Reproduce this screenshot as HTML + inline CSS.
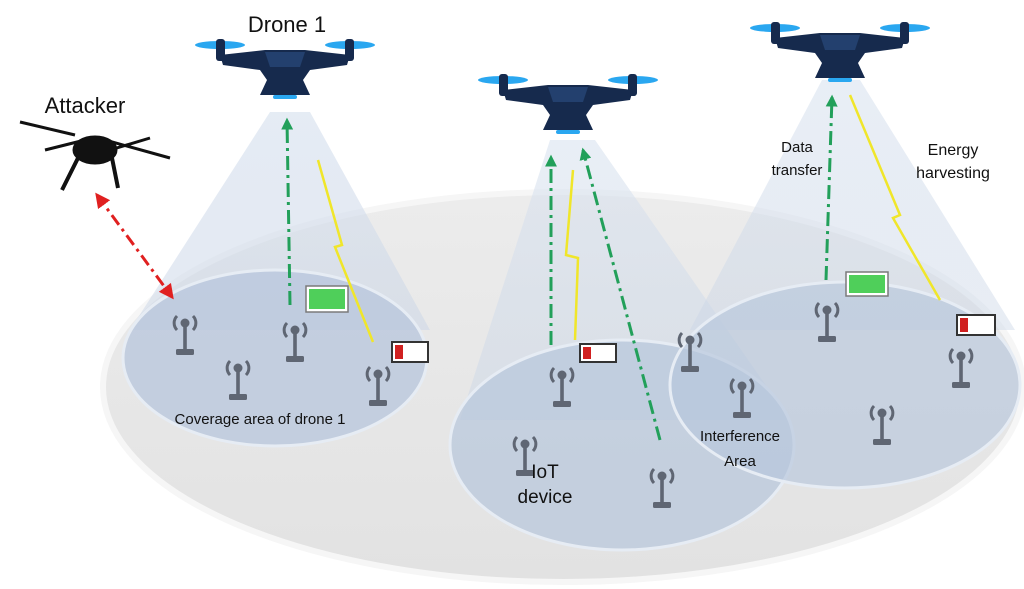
<!DOCTYPE html>
<html><head><style>body{margin:0;background:#fff}svg{display:block;font-family:"Liberation Sans",sans-serif}</style></head><body>
<svg width="1024" height="589" viewBox="0 0 1024 589">
<defs>
<linearGradient id="bg" x1="0" y1="0" x2="0" y2="1"><stop offset="0" stop-color="#ececec"/><stop offset="1" stop-color="#e2e2e2"/></linearGradient>
<linearGradient id="beam" x1="0" y1="0" x2="0" y2="1"><stop offset="0" stop-color="#dbe4f0" stop-opacity=".9"/><stop offset="1" stop-color="#c8d4e6" stop-opacity=".6"/></linearGradient>
<g id="tw" fill="#5f6673" stroke="#5f6673">
<circle cx="0" cy="-12" r="4.5" stroke="none"/>
<path d="M-8,-19 A10,10 0 0 0 -8,-5 M8,-19 A10,10 0 0 1 8,-5" fill="none" stroke-width="3"/>
<rect x="-1.8" y="-10" width="3.6" height="26" stroke="none"/>
<rect x="-9" y="14" width="18" height="6" rx="1.5" stroke="none"/>
</g>
<g id="dr">
<ellipse cx="-65" cy="0" rx="25" ry="4" fill="#2aa7f0"/>
<ellipse cx="65" cy="0" rx="25" ry="4" fill="#2aa7f0"/>
<rect x="-69" y="-6" width="9" height="22" rx="3" fill="#162a4d"/>
<rect x="60" y="-6" width="9" height="22" rx="3" fill="#162a4d"/>
<path d="M-65,10 L-20,5 L20,5 L65,10 L62,20 L25,25 L18,35 L25,50 L-25,50 L-18,35 L-25,25 L-62,20 Z" fill="#162a4d"/>
<path d="M-20,7 L20,7 L15,22 L-15,22Z" fill="#23406e"/>
<rect x="-12" y="50" width="24" height="4" rx="2" fill="#2aa7f0"/>
</g>
<marker id="ar" viewBox="0 0 10 10" refX="8" refY="5" markerWidth="5" markerHeight="5" orient="auto-start-reverse"><path d="M0,0L10,5L0,10Z" fill="#e02020"/></marker>
<marker id="ag" viewBox="0 0 10 10" refX="8" refY="5" markerWidth="4" markerHeight="4" orient="auto"><path d="M0,0L10,5L0,10Z" fill="#22a05a"/></marker>
</defs>
<ellipse cx="563" cy="387" rx="460" ry="195" fill="url(#bg)" stroke="#f6f6f6" stroke-width="6"/>
<!-- beams -->
<polygon points="270,112 310,112 430,330 130,330" fill="url(#beam)" opacity=".8"/>
<polygon points="550,140 595,140 790,420 460,420" fill="url(#beam)" opacity=".7"/>
<polygon points="822,80 860,80 1015,330 690,330" fill="url(#beam)" opacity=".7"/>
<!-- coverage ellipses -->
<ellipse cx="275" cy="358" rx="152" ry="88" fill="#b7c6dc" fill-opacity=".75" stroke="#e6ecf4" stroke-width="3"/>
<ellipse cx="622" cy="445" rx="172" ry="105" fill="#b7c6dc" fill-opacity=".7" stroke="#e6ecf4" stroke-width="3"/>
<ellipse cx="845" cy="385" rx="175" ry="103" fill="#b7c6dc" fill-opacity=".65" stroke="#e6ecf4" stroke-width="3"/>
<!-- towers -->
<use href="#tw" x="185" y="335"/><use href="#tw" x="238" y="380"/><use href="#tw" x="295" y="342"/><use href="#tw" x="378" y="386"/>
<use href="#tw" x="562" y="387"/><use href="#tw" x="525" y="456"/><use href="#tw" x="662" y="488"/><use href="#tw" x="690" y="352"/><use href="#tw" x="742" y="398"/>
<use href="#tw" x="827" y="322"/><use href="#tw" x="961" y="368"/><use href="#tw" x="882" y="425"/>
<!-- lightning -->
<g fill="none" stroke="#f0e62a" stroke-width="2.5">
<path d="M318,160 L342,245 L335,247 L373,342"/>
<path d="M573,170 L566,255 L578,258 L575,340"/>
<path d="M850,95 L900,215 L893,218 L940,300"/>
</g>
<!-- green arrows -->
<g stroke="#22a05a" stroke-width="3" stroke-dasharray="14,5,3,5" fill="none">
<path d="M290,305 L287,120" marker-end="url(#ag)"/>
<path d="M551,345 L551,157" marker-end="url(#ag)"/>
<path d="M660,440 L583,150" marker-end="url(#ag)"/>
<path d="M826,280 L832,97" marker-end="url(#ag)"/>
</g>
<path d="M97,195 L172,297" stroke="#e02020" stroke-width="3" stroke-dasharray="12,5,3,5" marker-start="url(#ar)" marker-end="url(#ar)"/>
<!-- batteries -->
<g stroke="#7a7a7a" stroke-width="1.5">
<rect x="306" y="286" width="42" height="26" fill="#fff"/><rect x="309" y="289" width="36" height="20" fill="#4fcf5a" stroke="none"/>
<rect x="392" y="342" width="36" height="20" fill="#fff" stroke="#333" stroke-width="2"/><rect x="395" y="345" width="8" height="14" fill="#d02020" stroke="none"/>
<rect x="580" y="344" width="36" height="18" fill="#fff" stroke="#333" stroke-width="2"/><rect x="583" y="347" width="8" height="12" fill="#d02020" stroke="none"/>
<rect x="846" y="272" width="42" height="24" fill="#fff"/><rect x="849" y="275" width="36" height="18" fill="#4fcf5a" stroke="none"/>
<rect x="957" y="315" width="38" height="20" fill="#fff" stroke="#333" stroke-width="2"/><rect x="960" y="318" width="8" height="14" fill="#d02020" stroke="none"/>
</g>
<!-- drones -->
<use href="#dr" x="285" y="45"/>
<use href="#dr" x="568" y="80"/>
<use href="#dr" x="840" y="28"/>
<!-- attacker -->
<g stroke="#111" fill="#111">
<path d="M20,122 L75,135 M45,150 L85,140 M105,140 L170,158 M110,150 L150,138" stroke-width="3"/>
<ellipse cx="95" cy="150" rx="22" ry="14"/>
<path d="M78,158 L62,190 M112,158 L118,188" stroke-width="4" fill="none"/>
</g>
<!-- texts -->
<g fill="#111">
<text x="287" y="32" font-size="22" text-anchor="middle">Drone 1</text>
<text x="85" y="113" font-size="22" text-anchor="middle">Attacker</text>
<text x="260" y="424" font-size="15" text-anchor="middle">Coverage area of drone 1</text>
<text x="545" y="478" font-size="19" text-anchor="middle">IoT</text>
<text x="545" y="503" font-size="19" text-anchor="middle">device</text>
<text x="740" y="441" font-size="15" text-anchor="middle">Interference</text>
<text x="740" y="466" font-size="15" text-anchor="middle">Area</text>
<text x="797" y="152" font-size="15" text-anchor="middle">Data</text>
<text x="797" y="175" font-size="15" text-anchor="middle">transfer</text>
<text x="953" y="155" font-size="16" text-anchor="middle">Energy</text>
<text x="953" y="178" font-size="16" text-anchor="middle">harvesting</text>
</g>
</svg>
</body></html>
